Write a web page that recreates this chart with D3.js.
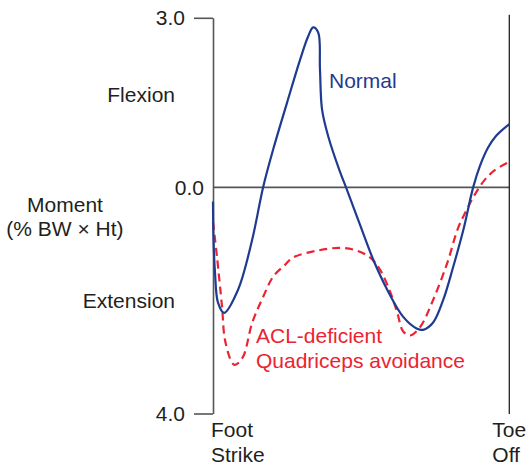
<!DOCTYPE html>
<html>
<head>
<meta charset="utf-8">
<script src="https://cdn.jsdelivr.net/npm/d3@7"></script>
<style>
  html, body { margin: 0; padding: 0; background: #fff; }
  svg { display: block; font-family: "Liberation Sans", Arial, Helvetica, sans-serif; }
</style>
</head>
<body>
<svg id="chart" width="526" height="467"></svg>
<script>
// ---- data (x: % of stance from foot strike to toe off, y: moment in % BW x Ht) ----
const normalX = [0, 0.17, 0.68, 1.69, 3.72, 8.45, 13.2, 16.9, 20.3, 25.0, 29.4, 32.1, 33.8, 35.5, 36.1, 36.8, 38.9, 42.9, 44.9, 49.6, 54.1, 58.8, 64.2, 68.9, 70.9, 74.3, 77.7, 81.1, 84.5, 87.8, 90.1, 92.8, 95.5, 100];
const normalY = [-0.25, -0.92, -1.51, -2.04, -2.22, -1.81, -0.93, 0.0, 0.67, 1.50, 2.26, 2.67, 2.83, 2.74, 2.09, 1.38, 0.90, 0.27, 0.0, -0.66, -1.28, -1.81, -2.29, -2.50, -2.52, -2.39, -1.99, -1.40, -0.75, 0.0, 0.38, 0.70, 0.91, 1.12];

const aclX = [0, 1.35, 3.04, 4.05, 6.42, 7.43, 10.1, 13.2, 16.9, 20.3, 24.3, 27.0, 35.1, 42.9, 48.6, 53.0, 56.4, 59.8, 62.2, 64.2, 66.6, 69.9, 74.3, 79.1, 82.7, 85.4, 88.1, 91.5, 95.2, 100];
const aclY = [-0.61, -1.23, -2.11, -2.70, -3.10, -3.14, -3.00, -2.40, -1.94, -1.58, -1.37, -1.24, -1.12, -1.07, -1.12, -1.24, -1.46, -1.85, -2.22, -2.55, -2.62, -2.47, -1.99, -1.33, -0.72, -0.42, -0.15, 0.12, 0.31, 0.45];

const yTicks = [3, 0, -4];
const yTickLabels = ["3.0", "0.0", "4.0"];
const seriesNames = ["Normal", "ACL-deficient", "Quadriceps avoidance"];
const xEventLabels = [["Foot", "Strike"], ["Toe", "Off"]];
const sideLabels = ["Flexion", "Extension"];
const axisTitle = ["Moment", "(% BW \u00d7 Ht)"];

// ---- drawing ----
const svg = d3.select("#chart");
const x = d3.scaleLinear().domain([0, 100]).range([213, 509.3]);
const y = d3.scaleLinear().domain([-4, 3]).range([413.5, 17.8]);

const textColor = "#231f20";
const axisColor = "#555";
const blue = "#1f3b8f";
const red = "#ec2330";
const fs = 21;

// left axis
const yAxis = d3.axisLeft(y).tickValues(yTicks)
  .tickFormat((d, i) => yTickLabels[i]).tickSize(19).tickSizeOuter(0).tickPadding(9);
const gAxis = svg.append("g").attr("transform", `translate(${x(0)},0)`).call(yAxis);
gAxis.select(".domain").attr("stroke", axisColor).attr("stroke-width", 1.6);
gAxis.selectAll(".tick line").attr("stroke", axisColor).attr("stroke-width", 1.6)
  .attr("x2", d => d === 0 ? 0 : -19);
gAxis.selectAll(".tick text")
  .attr("x", d => d === 0 ? -9 : -28)
  .attr("fill", textColor).style("font-size", fs + "px")
  .style("font-family", "'Liberation Sans', Arial, sans-serif");

// zero line
svg.append("line")
  .attr("x1", x(0)).attr("x2", x(100)).attr("y1", y(0)).attr("y2", y(0))
  .attr("stroke", axisColor).attr("stroke-width", 1.6);

// toe-off line
svg.append("line")
  .attr("x1", x(100)).attr("x2", x(100)).attr("y1", y(3) - 3).attr("y2", y(-4) + 0.5)
  .attr("stroke", "#222").attr("stroke-width", 1.3);

const line = d3.line().x(d => x(d[0])).y(d => y(d[1])).curve(d3.curveCatmullRom.alpha(0.5));

svg.append("path")
  .datum(aclX.map((v, i) => [v, aclY[i]]))
  .attr("d", line).attr("fill", "none").attr("stroke", red)
  .attr("stroke-width", 2.2).attr("stroke-dasharray", "8,5");

svg.append("path")
  .datum(normalX.map((v, i) => [v, normalY[i]]))
  .attr("d", line).attr("fill", "none").attr("stroke", blue)
  .attr("stroke-width", 2.2);

// series labels
svg.append("text").attr("x", 329).attr("y", 88).attr("fill", blue)
  .style("font-size", fs + "px").text(seriesNames[0]);
svg.append("text").attr("x", 256).attr("y", 343).attr("fill", red)
  .style("font-size", fs + "px").text(seriesNames[1]);
svg.append("text").attr("x", 256).attr("y", 368).attr("fill", red)
  .style("font-size", fs + "px").text(seriesNames[2]);

// side labels
svg.append("text").attr("x", 175).attr("y", 102).attr("text-anchor", "end")
  .attr("fill", textColor).style("font-size", fs + "px").text(sideLabels[0]);
svg.append("text").attr("x", 175).attr("y", 308).attr("text-anchor", "end")
  .attr("fill", textColor).style("font-size", fs + "px").text(sideLabels[1]);

// axis title
svg.append("text").attr("x", 65).attr("y", 212).attr("text-anchor", "middle")
  .attr("fill", textColor).style("font-size", fs + "px").text(axisTitle[0]);
svg.append("text").attr("x", 65).attr("y", 236).attr("text-anchor", "middle")
  .attr("fill", textColor).style("font-size", fs + "px").text(axisTitle[1]);

// event labels
[[0, 211], [100, 492]].forEach((e, i) => {
  xEventLabels[i].forEach((t, j) => {
    svg.append("text").attr("x", i === 0 ? x(e[0]) - 2 : x(e[0]) - 17).attr("y", 437 + j * 25)
      .attr("fill", textColor).style("font-size", fs + "px").text(t);
  });
});
</script>
</body>
</html>
